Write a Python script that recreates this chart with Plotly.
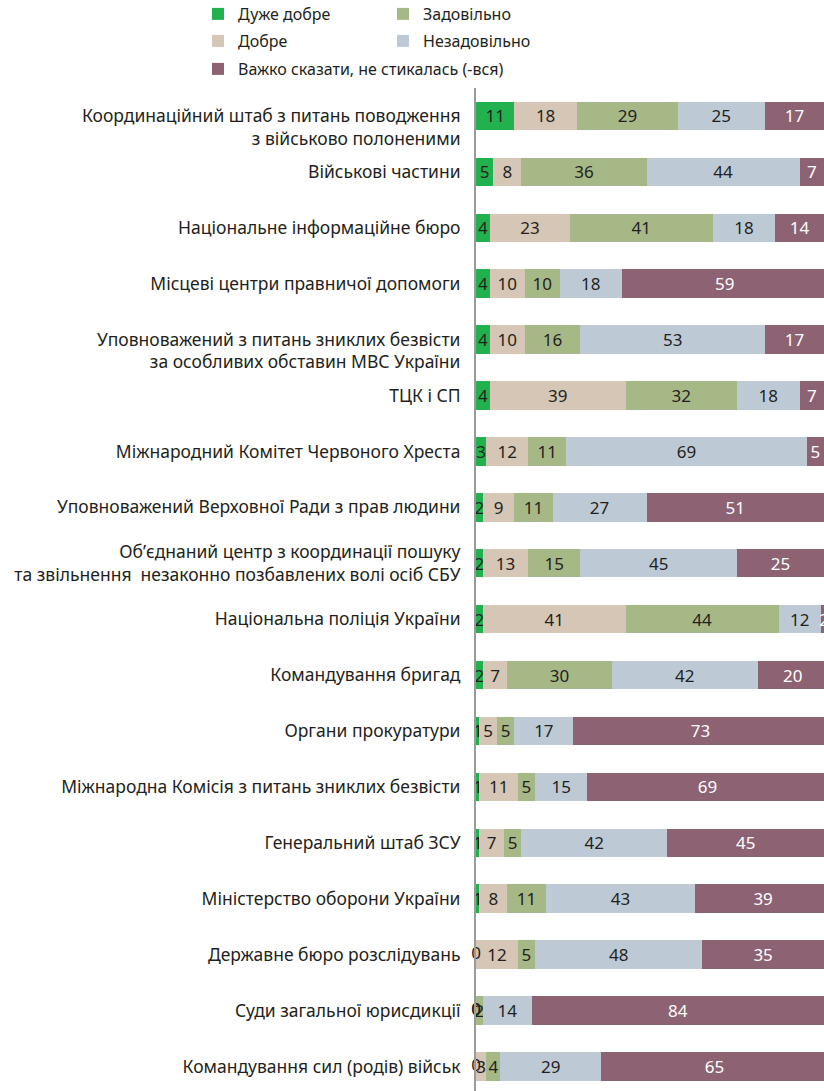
import plotly.graph_objects as go

# organisations, top to bottom
orgs = [
    "\u00a0<br>Координаційний штаб з питань поводження<br>з військово полоненими",
    "Військові частини",
    "Національне інформаційне бюро",
    "Місцеві центри правничої допомоги",
    "\u00a0<br>Уповноважений з питань зниклих безвісти<br>за особливих обставин МВС України",
    "ТЦК і СП",
    "Міжнародний Комітет Червоного Хреста",
    "Уповноважений Верховної Ради з прав людини",
    "Об’єднаний центр з координації пошуку<br>та звільнення  незаконно позбавлених волі осіб СБУ",
    "Національна поліція України",
    "Командування бригад",
    "Органи прокуратури",
    "Міжнародна Комісія з питань зниклих безвісти",
    "Генеральний штаб ЗСУ",
    "Міністерство оборони України",
    "Державне бюро розслідувань",
    "Суди загальної юрисдикції",
    "Командування сил (родів) військ",
]

duzhe_dobre = [11, 5, 4, 4, 4, 4, 3, 2, 2, 2, 2, 1, 1, 1, 1, 0, 0, 0]
dobre = [18, 8, 23, 10, 10, 39, 12, 9, 13, 41, 7, 5, 11, 7, 8, 12, 0, 3]
zadovilno = [29, 36, 41, 10, 16, 32, 11, 11, 15, 44, 30, 5, 5, 5, 11, 5, 2, 4]
nezadovilno = [25, 44, 18, 18, 53, 18, 69, 27, 45, 12, 42, 17, 15, 42, 43, 48, 14, 29]
vazhko = [17, 7, 14, 59, 17, 7, 5, 51, 25, 2, 20, 73, 69, 45, 39, 35, 84, 65]

FONT = "Noto Sans"
DARK = "#231f20"

# name, values, colour, text colour, legend id, legend top-left (px)
series = [
    ("Дуже добре", duzhe_dobre, "#21b24f", DARK, "legend", (198, -3)),
    ("Добре", dobre, "#d5c6b6", DARK, "legend2", (198, 24)),
    ("Задовільно", zadovilno, "#a7b887", DARK, "legend3", (383, -3)),
    ("Незадовільно", nezadovilno, "#bdcad6", DARK, "legend4", (383, 24)),
    ("Важко сказати, не стикалась (-вся)", vazhko, "#8d6272", "white", "legend5", (198, 52)),
]

W, H = 824, 1091
ML, MT = 476, 88
PW, PH = W - ML, H - MT
YRANGE = [17.44, -0.5]

fig = go.Figure()
base = [0] * len(orgs)
zero_x, zero_y = [], []
for name, vals, col, tcol, leg, pos in series:
    fig.add_trace(go.Bar(
        y=orgs, x=vals, name=name, orientation="h",
        marker=dict(color=col, line=dict(width=0)),
        text=vals, textposition="inside", insidetextanchor="middle",
        constraintext="none", textangle=0,
        insidetextfont=dict(color=tcol, size=17, family=FONT),
        legend=leg, hoverinfo="x+y+name",
    ))
    # plotly skips labels of zero-length bars, collect them separately
    for i, v in enumerate(vals):
        if v == 0:
            zero_x.append(base[i])
            zero_y.append(orgs[i])
        base[i] += v

# zero labels on an overlaid x axis so they can spill past the y axis line
fig.add_trace(go.Scatter(
    x=zero_x, y=zero_y, mode="text", text=["0"] * len(zero_x),
    textposition="middle center", textfont=dict(size=17, color=DARK, family=FONT),
    cliponaxis=False, showlegend=False, hoverinfo="skip", xaxis="x2",
))

layout_legends = {}
for name, vals, col, tcol, leg, pos in series:
    layout_legends[leg] = dict(
        x=(pos[0] - ML) / PW, y=1 + (MT - pos[1]) / PH,
        xanchor="left", yanchor="top", orientation="v",
        font=dict(size=16, color=DARK, family=FONT),
        bgcolor="rgba(0,0,0,0)", itemwidth=30,
    )

fig.update_layout(
    width=W, height=H,
    barmode="stack", bargap=0.49,
    margin=dict(l=ML, r=0, t=MT, b=0, autoexpand=False),
    plot_bgcolor="white", paper_bgcolor="white",
    font=dict(family=FONT, color=DARK, size=16),
    xaxis=dict(range=[0, 100], visible=False),
    xaxis2=dict(range=[0, 100], visible=False, overlaying="x"),
    yaxis=dict(range=YRANGE, showline=True, linecolor="#9a9a9a",
               categoryorder="array", categoryarray=orgs,
               linewidth=2, showgrid=False, ticks="", ticklabelstandoff=10,
               automargin=False,
               tickfont=dict(size=17.5, color=DARK, family=FONT)),
    **layout_legends,
)

fig.write_html("out.html", config={"displayModeBar": False},
               post_script="document.body.style.margin='0px';")
